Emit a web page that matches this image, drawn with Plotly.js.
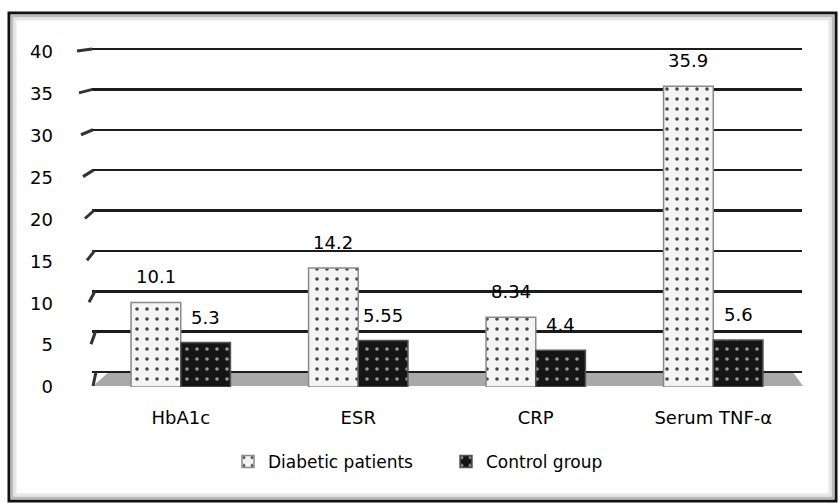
<!DOCTYPE html>
<html>
<head>
<meta charset="utf-8">
<script src="https://cdn.plot.ly/plotly-3.0.1.min.js"></script>
<style>html,body{margin:0;padding:0;background:#fff;}#chart{width:840px;height:503px;}</style>
</head>
<body>
<div id="chart"></div>
<script>
// ---- data ----
const categories = ["HbA1c", "ESR", "CRP", "Serum TNF-α"];
const diabeticValues = [10.1, 14.2, 8.34, 35.9];
const controlValues = [5.3, 5.55, 4.4, 5.6];
const seriesNames = ["Diabetic patients", "Control group"];
const tickValues = [0, 5, 10, 15, 20, 25, 30, 35, 40];

// ---- layout geometry ----
const W = 840, H = 503, L = 92, R = 38, T = 44, B = 116;
const PW = W - L - R, PH = H - T - B;
const px = x => (x - L) / PW;
const py = y => (H - B - y) / PH;
const FONT = "'DejaVu Sans', sans-serif";
const BARGAP = 0.44;
const barShift = (PW / categories.length) * (1 - BARGAP) / 4;

const traces = [
  { // empty trace anchoring the back-wall grid axis
    type: "scatter", x: [], y: [], xaxis: "x", yaxis: "y", showlegend: false, hoverinfo: "skip"
  },
  {
    type: "bar", name: seriesNames[0], x: categories, y: diabeticValues,
    xaxis: "x", yaxis: "y2", legend: "legend",
    marker: {color: "#f2f2f2", line: {color: "#8a8a8a", width: 1.5},
      pattern: {shape: ".", bgcolor: "#f4f4f4", fgcolor: "#444", size: 10, solidity: 0.1, fillmode: "replace"}}
  },
  {
    type: "bar", name: seriesNames[1], x: categories, y: controlValues,
    xaxis: "x", yaxis: "y2", legend: "legend2",
    marker: {color: "#151515", line: {color: "#555", width: 1.5},
      pattern: {shape: ".", bgcolor: "#151515", fgcolor: "#9a9a9a", size: 10, solidity: 0.1, fillmode: "replace"}}
  }
];

// value labels
const annotations = [];
categories.forEach((c, i) => {
  annotations.push({x: c, y: diabeticValues[i], xref: "x", yref: "y2", text: String(diabeticValues[i]),
    showarrow: false, xshift: -barShift, yanchor: "bottom", yshift: 13, font: {size: 18, family: FONT, color: "#000"}});
  annotations.push({x: c, y: controlValues[i], xref: "x", yref: "y2", text: String(controlValues[i]),
    showarrow: false, xshift: barShift, yanchor: "bottom", yshift: 13, font: {size: 18, family: FONT, color: "#000"}});
});

// decorative shapes: frame, floor, left stubs
const shapes = [];
shapes.push({type: "rect", xref: "paper", yref: "paper", x0: px(9), x1: px(836), y0: py(501), y1: py(13),
  line: {color: "#111", width: 3}, layer: "below"});
shapes.push({type: "rect", xref: "paper", yref: "paper", x0: px(12), x1: px(833), y0: py(498), y1: py(16),
  line: {color: "#bbb", width: 3}, layer: "below"});
shapes.push({type: "rect", xref: "paper", yref: "paper", x0: px(15), x1: px(830), y0: py(495), y1: py(19),
  line: {color: "#e6e6e6", width: 3}, layer: "below"});
shapes.push({type: "path", xref: "paper", yref: "paper", layer: "below",
  path: `M ${px(93)} ${py(386)} L ${px(110)} ${py(371)} L ${px(792)} ${py(371)} L ${px(803)} ${py(386)} Z`,
  fillcolor: "#a9a9a9", line: {width: 0}});
tickValues.forEach(v => {
  const xf = 93 - v * 0.4, xb = 96 - v * 0.1;
  const yf = 386 - v * 8.375, yb = 372 - v * 8.075;
  shapes.push({type: "line", xref: "paper", yref: "paper", x0: px(xf), y0: py(yf), x1: px(xb), y1: py(yb),
    line: {color: "#333", width: 3}});
});

const legendCommon = {orientation: "h", yanchor: "middle", xanchor: "left", y: py(462),
  font: {size: 17, family: FONT}, itemwidth: 30, bgcolor: "rgba(0,0,0,0)"};

const layout = {
  width: W, height: H,
  margin: {l: L, r: R, t: T, b: B},
  paper_bgcolor: "#fff", plot_bgcolor: "rgba(0,0,0,0)",
  font: {family: FONT, size: 18, color: "#000"},
  barmode: "group", bargap: BARGAP, bargroupgap: 0,
  showlegend: true,
  legend: Object.assign({}, legendCommon, {x: px(228)}),
  legend2: Object.assign({}, legendCommon, {x: px(446)}),
  xaxis: {type: "category", showgrid: false, zeroline: false, showline: false, ticks: "",
    ticklabelstandoff: 18, tickfont: {size: 18}},
  yaxis: {range: [-1.858, 40.619], tickvals: tickValues, showticklabels: false, showgrid: true,
    gridcolor: "#1c1c1c", gridwidth: 2.5, zeroline: false, showline: false, ticks: ""},
  yaxis2: {overlaying: "y", side: "left", anchor: "x", range: [0, 40.955], tickvals: tickValues, showgrid: false,
    zeroline: false, showline: false, ticks: "", ticklabelstandoff: 38, tickfont: {size: 18}},
  annotations: annotations,
  shapes: shapes
};

Plotly.newPlot("chart", traces, layout, {displayModeBar: false, staticPlot: true});
</script>
</body>
</html>
